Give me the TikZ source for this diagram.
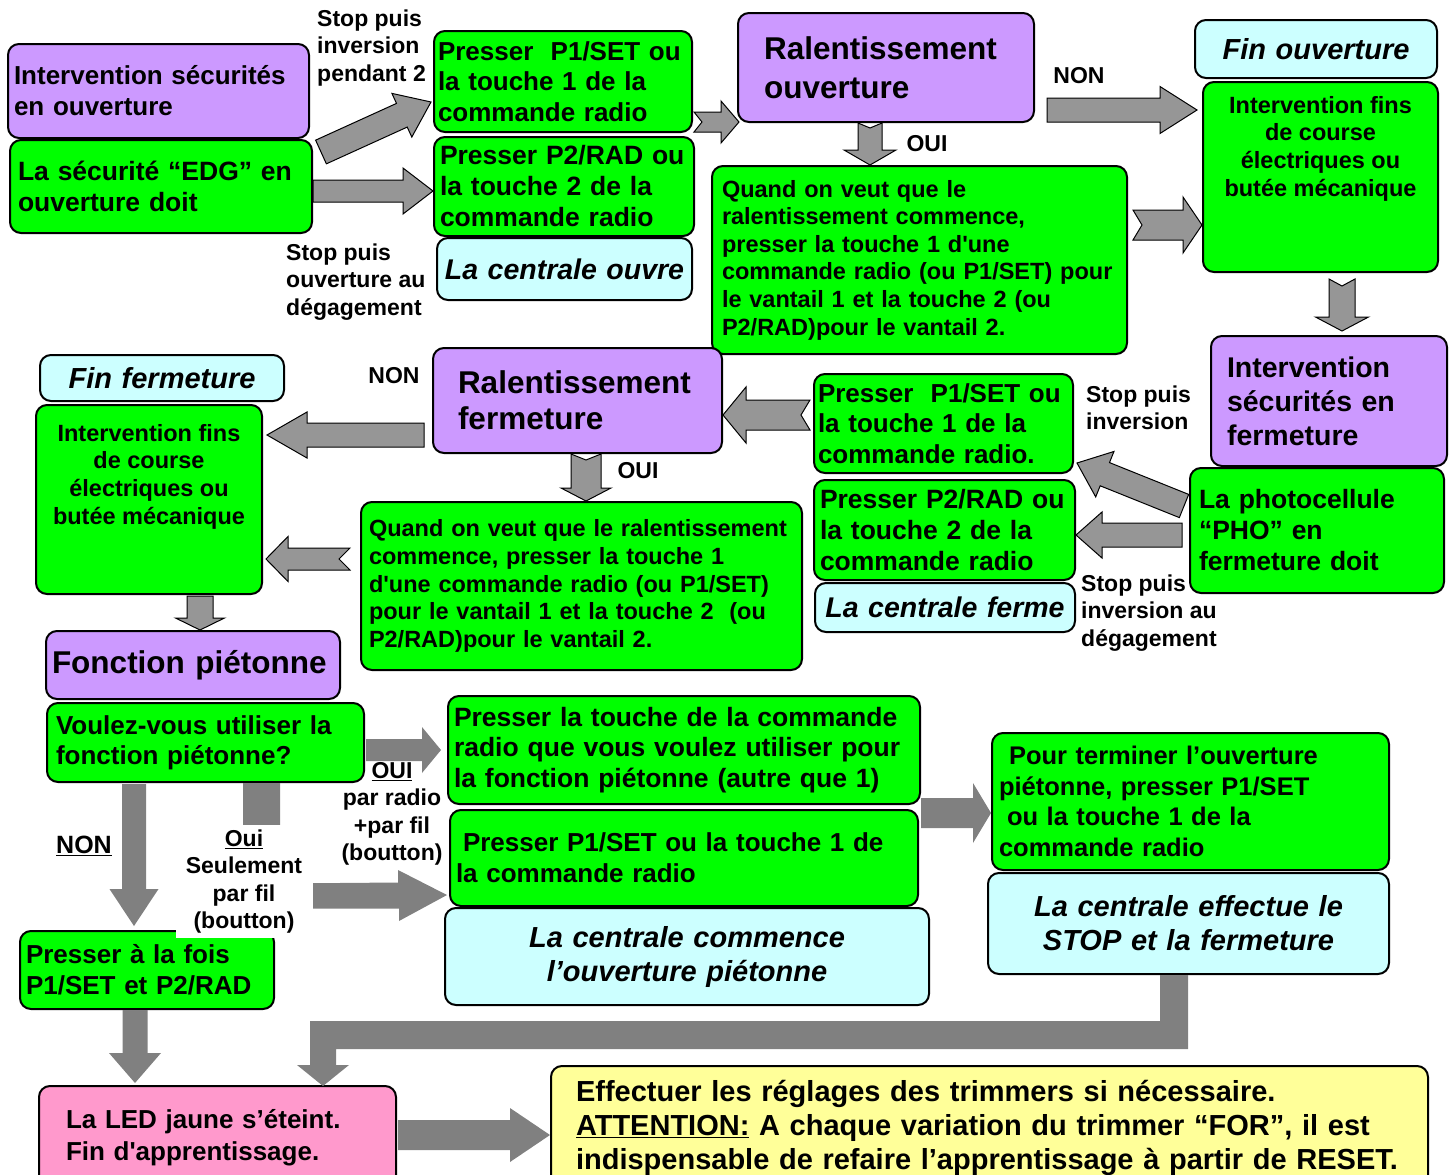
\documentclass[tikz,border=0pt]{standalone}
\usepackage{fontspec}
\setmainfont{Liberation Sans}
\usetikzlibrary{calc}
\definecolor{lilas}{RGB}{204,153,255}
\definecolor{vertvif}{RGB}{0,255,0}
\definecolor{cyanpale}{RGB}{204,255,255}
\definecolor{rosepale}{RGB}{255,153,204}
\definecolor{jaunepale}{RGB}{255,255,153}
\definecolor{flechegris}{RGB}{150,150,150}
\definecolor{flechefonce}{RGB}{128,128,128}

% block arrow: [style]{from}{to}{half shaft}{half head}{head length}{notch}
\newcommand{\blockarrow}[7][]{%
  \draw[barrow,#1] ($(#2)!#4!90:(#3)$) -- ($(#2)!#7!(#3)$) -- ($(#2)!#4!-90:(#3)$)
    -- ($(#3)!#6!(#2)!#4!-90:(#3)$) -- ($(#3)!#6!(#2)!#5!-90:(#3)$) -- (#3)
    -- ($(#3)!#6!(#2)!#5!90:(#3)$) -- ($(#3)!#6!(#2)!#4!90:(#3)$) -- cycle;}
% text pushed to the top of a box
\newcommand{\enhaut}[4]{\parbox[c][#2][t]{#1}{\centering\vspace*{#3}#4}}

\begin{document}
\begin{tikzpicture}[x=1pt, y=-1pt,
    box/.style={draw=black, line width=2pt, rounded corners=11pt, inner ysep=2pt, align=left},
    sz/.style n args={4}{minimum width=#1pt, minimum height=#2pt, inner xsep=#3pt, text width=#4pt},
    txt/.style 2 args={font=\bfseries\fontsize{#1}{#2}\selectfont},
    itxt/.style 2 args={font=\bfseries\itshape\fontsize{#1}{#2}\selectfont},
    mauvebox/.style={box, fill=lilas},
    vertbox/.style={box, fill=vertvif},
    cyanbox/.style={box, fill=cyanpale, align=center},
    rosebox/.style={box, fill=rosepale},
    jaunebox/.style={box, fill=jaunepale},
    lbl/.style={inner sep=0pt, align=left, txt={23}{27.5}},
    barrow/.style={fill=flechegris, draw=black, line width=1pt, line join=miter},
    darrow/.style={fill=flechefonce, draw=none}]
    \useasboundingbox (0,0) rectangle (1452,1175);

    % Ouverture
    \node[mauvebox, sz={301}{94}{6}{289}, txt={26}{31}] (secO) at (158.5,91) {Intervention sécurités\\en ouverture};
    \node[vertbox, sz={302}{93}{8}{286}, txt={26.5}{31}] (edg) at (161,186.5) {La sécurité “EDG” en\\ouverture doit};
    \node[vertbox, sz={258}{101}{4}{250}, txt={26}{30.5}] (pr1O) at (563,81.5) {Presser~~P1/SET ou\\la touche 1 de la\\commande radio};
    \node[vertbox, sz={260}{99}{6}{248}, txt={26.5}{31}] (pr2O) at (564,186.5) {Presser P2/RAD ou\\la touche 2 de la\\commande radio};
    \node[cyanbox, sz={255}{62}{4}{247}, itxt={28.5}{34}] (cenO) at (564.5,269) {La centrale ouvre};
    \node[mauvebox, sz={296}{109}{26}{244}, txt={31.5}{39}] (ralO) at (886,67.5) {Ralentissement\\ouverture};
    \node[vertbox, sz={415}{188}{10}{395}, txt={23.5}{27.6}] (quO) at (919.5,260) {Quand on veut que le\\ralentissement commence,\\presser la touche 1 d\textquotesingle{}une\\commande radio (ou P1/SET) pour\\le vantail 1 et la touche 2 (ou\\P2/RAD)pour le vantail 2.};
    \node[cyanbox, sz={242}{58}{4}{234}, itxt={29}{34}] (finO) at (1316,49) {Fin ouverture};
    \node[vertbox, minimum width=235pt, minimum height=190pt, inner sep=0pt, txt={23.5}{27.7}] (fcO) at (1320.5,177) {\enhaut{223pt}{184pt}{11pt}{Intervention fins\\de course\\électriques ou\\butée mécanique}};

    % Fermeture
    \node[mauvebox, sz={236}{130}{16}{204}, txt={28.5}{34}] (secF) at (1329,401) {Intervention\\sécurités en\\fermeture};
    \node[vertbox, sz={254}{125}{9}{236}, txt={26.5}{31}] (pho) at (1317,530.5) {La photocellule\\“PHO” en\\fermeture doit};
    \node[vertbox, sz={259}{99}{4}{251}, txt={26}{30.5}] (pr1F) at (943.5,423.5) {Presser~~P1/SET ou\\la touche 1 de la\\commande radio.};
    \node[vertbox, sz={261}{100}{6}{249}, txt={26.5}{31}] (pr2F) at (944.5,530) {Presser P2/RAD ou\\la touche 2 de la\\commande radio};
    \node[cyanbox, sz={260}{49}{4}{252}, itxt={28.5}{34}] (cenF) at (945,607.5) {La centrale ferme};
    \node[mauvebox, sz={289}{105}{25}{239}, txt={31.5}{36}] (ralF) at (577.5,400.5) {Ralentissement\\fermeture};
    \node[vertbox, sz={441}{168}{8}{425}, txt={23.5}{27.8}] (quF) at (581.5,586) {Quand on veut que le ralentissement\\commence, presser la touche 1\\d\textquotesingle{}une commande radio (ou P1/SET)\\pour le vantail 1 et la touche 2~~(ou\\P2/RAD)pour le vantail 2.};
    \node[cyanbox, sz={244}{46}{4}{236}, itxt={29}{34}] (finF) at (162,378) {Fin fermeture};
    \node[vertbox, minimum width=226pt, minimum height=189pt, inner sep=0pt, txt={23.5}{27.7}] (fcF) at (149,499.5) {\enhaut{214pt}{183pt}{16pt}{Intervention fins\\de course\\électriques ou\\butée mécanique}};

    % Pieton
    \node[mauvebox, sz={294}{68}{6}{282}, txt={31.5}{38}] (fpiet) at (193,665) {Fonction piétonne};
    \node[vertbox, sz={317}{79}{9}{299}, txt={26}{30}] (voulez) at (205.5,742.5) {Voulez-vous utiliser la\\fonction piétonne?};
    \node[vertbox, sz={254}{78}{6}{242}, txt={26}{31}] (presF) at (147,970) {Presser à la fois\\P1/SET et P2/RAD};
    \node[vertbox, sz={472}{108}{6}{460}, txt={26.5}{30.5}] (prT) at (684,750) {Presser la touche de la commande\\radio que vous voulez utiliser pour\\la fonction piétonne (autre que 1)};
    \node[vertbox, sz={468}{96}{6}{456}, txt={26}{31}] (prP1) at (684,858) {\hspace*{7pt}Presser P1/SET ou la touche 1 de\\la commande radio};
    \node[cyanbox, sz={484}{97}{6}{472}, itxt={29}{34}] (cenP) at (687,956.5) {La centrale commence\\l’ouverture piétonne};
    \node[vertbox, sz={397}{137}{7}{383}, txt={25.5}{30.7}] (term) at (1190.5,801.5) {\hspace*{10pt}Pour terminer l’ouverture\\piétonne, presser P1/SET\\\hspace*{8pt}ou la touche 1 de la\\commande radio};
    \node[cyanbox, sz={401}{101}{6}{389}, itxt={29}{34}] (cenS) at (1188.5,923.5) {La centrale effectue le\\STOP et la fermeture};
    \node[rosebox, sz={357}{104}{27}{303}, txt={26}{32}] (led) at (217.5,1138) {La LED jaune s’éteint.\\Fin d\textquotesingle{}apprentissage.};
    \node[jaunebox, sz={877}{124}{25}{827}, txt={29}{34}] (eff) at (989.5,1128) {Effectuer les réglages des trimmers si nécessaire.\\\underline{ATTENTION:} A chaque variation du trimmer “FOR”, il est\\indispensable de refaire l’apprentissage à partir de RESET.};

    % Arrow ends
    \coordinate (aS) at ($(edg.north east)+(8,13)$);
    \coordinate (aE) at ($(pr1O.west)+(-2,20.5)$);
    \coordinate (bS) at ($(edg.east)+(0,4.5)$);
    \coordinate (bE) at (pr2O.west |- bS);
    \coordinate (cS) at ($(pr1O.south east)+(1,-11)$);
    \coordinate (cE) at ($(ralO.west |- cS)+(2,0)$);
    \coordinate (dS) at ($(ralO.south)+(-16,0)$);
    \coordinate (dE) at (dS |- quO.north);
    \coordinate (eS) at ($(ralO.east)+(12,42.5)$);
    \coordinate (eE) at ($(fcO.west |- eS)+(-5,0)$);
    \coordinate (fS) at ($(quO.east)+(5,-35)$);
    \coordinate (fE) at (fcO.west |- fS);
    \coordinate (gS) at ($(fcO.south)+(21.5,6)$);
    \coordinate (gE) at ($(gS |- secF.north)+(0,-4)$);
    \coordinate (hS) at ($(pho.north west)+(-5,39)$);
    \coordinate (hE) at ($(pr1F.south east)+(3,-11)$);
    \coordinate (iS) at ($(pho.west)+(-7,4.5)$);
    \coordinate (iE) at (pr2F.east |- iS);
    \coordinate (jS) at ($(pr1F.west)+(-3,-8.5)$);
    \coordinate (jE) at (ralF.east |- jS);
    \coordinate (kS) at ($(ralF.west)+(-8,34.5)$);
    \coordinate (kE) at ($(fcF.east |- kS)+(4,0)$);
    \coordinate (lS) at ($(ralF.south)+(8.5,0)$);
    \coordinate (lE) at (lS |- quF.north);
    \coordinate (mS) at ($(quF.west)+(-10,-27)$);
    \coordinate (mE) at ($(fcF.east |- mS)+(3,0)$);
    \coordinate (nS) at ($(fcF.south)+(51,1)$);
    \coordinate (nE) at (nS |- fpiet.north);
    \coordinate (oS) at ($(voulez.east)+(1,7.5)$);
    \coordinate (oE) at ($(prT.west |- oS)+(-6,0)$);
    \coordinate (pS) at ($(voulez.south west)+(88,1)$);
    \coordinate (pE) at ($(pS |- presF.north)+(0,-4)$);
    \coordinate (rE) at ($(prP1.west)+(-2,37)$);
    \coordinate (sS) at ($(prT.south east)+(0,8)$);
    \coordinate (sE) at (term.west |- sS);
    \coordinate (tS) at ($(presF.south)+(-12,0)$);
    \coordinate (tE) at ($(tS |- led.north)+(0,-2)$);
    \coordinate (vS) at ($(led.east)+(1,-3)$);
    \coordinate (vE) at (eff.west |- vS);

    % Gray arrows
    \blockarrow{aS}{aE}{13pt}{24pt}{32pt}{0pt}
    \blockarrow{bS}{bE}{11pt}{23pt}{30pt}{0pt}
    \blockarrow{cS}{cE}{10pt}{21pt}{18pt}{8pt}
    \blockarrow{dS}{dE}{12pt}{26pt}{15pt}{5pt}
    \blockarrow{eS}{eE}{12pt}{23.5pt}{37pt}{0pt}
    \blockarrow{fS}{fE}{15pt}{28pt}{19pt}{9pt}
    \blockarrow{gS}{gE}{13pt}{26.5pt}{14pt}{7pt}
    \blockarrow{hS}{hE}{12.5pt}{24.5pt}{30pt}{0pt}
    \blockarrow{iS}{iE}{12pt}{23pt}{26pt}{0pt}
    \blockarrow{jS}{jE}{15pt}{28pt}{23pt}{9pt}
    \blockarrow{kS}{kE}{12pt}{23pt}{40pt}{0pt}
    \blockarrow{lS}{lE}{15pt}{25pt}{13pt}{6pt}
    \blockarrow{mS}{mE}{11pt}{22.5pt}{22pt}{11pt}
    \blockarrow{nS}{nE}{13pt}{24.5pt}{12pt}{0pt}

    % Dark arrows
    \blockarrow[darrow]{oS}{oE}{11pt}{23pt}{19pt}{0pt}
    \blockarrow[darrow]{pS}{pE}{12pt}{24.5pt}{37pt}{0pt}
    \fill[darrow] ($(voulez.south)+(37.5,0)$) -- ++(0,125.5) -- ++(156,0) -- ++(0,12.5) -- (rE)
        -- ++(-49,-25) -- ++(0,12.5) -- ($(voulez.south)+(74.5,100.5)$) -- ++(0,-100.5) -- cycle;
    \blockarrow[darrow]{sS}{sE}{15pt}{30pt}{18pt}{0pt}
    \blockarrow[darrow]{tS}{tE}{12.5pt}{26pt}{30pt}{0pt}
    \fill[darrow] ($(cenS.south)+(-28.5,0)$) -- ++(28,0) -- ++(0,74) -- ++(-852,0) -- ++(0,16)
        -- ++(13,0) -- ++(-26,21) -- ++(-26,-21) -- ++(13,0) -- ++(0,-44) -- ++(850,0) -- cycle;
    \blockarrow[darrow]{vS}{vE}{15pt}{27pt}{40pt}{0pt}

    % Labels
    \node[lbl, anchor=west] (lblA) at (317,48) {Stop puis\\inversion\\pendant 2};
    \node[lbl, anchor=west] (lblB) at (286,282) {Stop puis\\ouverture au\\dégagement};
    \node[lbl] (nonO) at (1079,76) {NON};
    \node[lbl] (ouiO) at (927,144) {OUI};
    \node[lbl] (nonF) at (394,376) {NON};
    \node[lbl] (ouiF) at (638,471) {OUI};
    \node[lbl, anchor=west] (lblC) at (1086,408) {Stop puis\\inversion};
    \node[lbl, anchor=west] (lblD) at (1081,613) {Stop puis\\inversion au\\dégagement};
    \node[lbl, txt={25}{30}] (nonP) at (84,846) {\underline{NON}};
    \node[lbl, align=center] (ouiR) at (392,814) {\underline{OUI}\\par radio\\+par fil\\(boutton)};
    \node[lbl, align=center, fill=white, minimum width=137pt, minimum height=113pt] (ouiS) at (244,881.5) {\underline{Oui}\\Seulement\\par fil\\(boutton)};
\end{tikzpicture}
\end{document}
